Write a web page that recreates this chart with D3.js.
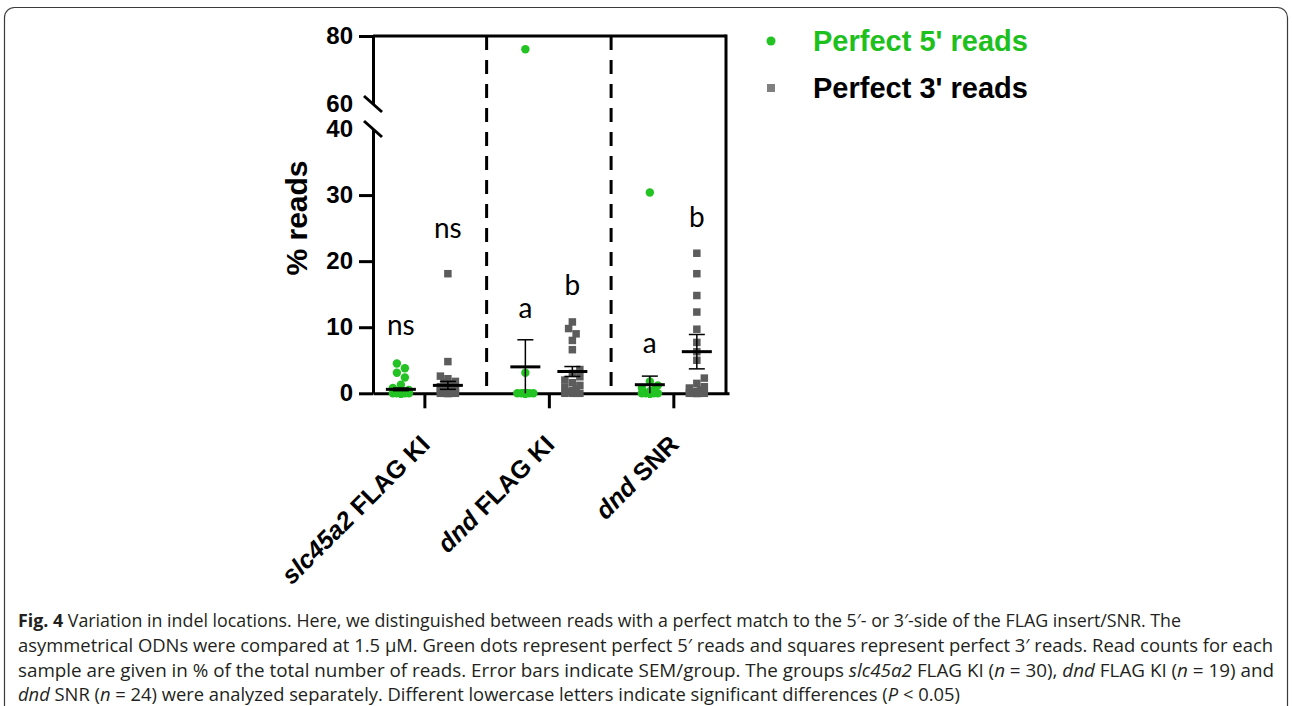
<!DOCTYPE html>
<html><head><meta charset="utf-8">
<script src="https://cdn.jsdelivr.net/npm/d3@7"></script>
<style>
body{margin:0;background:#fff;}
svg{display:block;}
</style></head><body>
<svg id="chart" width="1292" height="706"></svg>
<script>
// ---------------- data ----------------
const categories = ["slc45a2 FLAG KI", "dnd FLAG KI", "dnd SNR"];
const categoryItalic = ["slc45a2", "dnd", "dnd"];
const seriesNames = ["Perfect 5' reads", "Perfect 3' reads"];

const perfect5Slc = [4.5,3.8,3.1,2.4,1.3,0.8,0.5,0.3,0.2,0.1,0,0,0,0,0,0,0,0,0,0,0,0,0,0,0,0,0,0,0,0];
const perfect5DndFlag = [76.1,3.1,0,0,0,0,0,0,0,0,0,0,0,0,0,0,0,0,0];
const perfect5DndSnr = [30.4,1.8,1.2,0.8,0.5,0.3,0,0,0,0,0,0,0,0,0,0,0,0,0,0,0,0,0,0];

const perfect3Slc = [18.1,4.8,2.6,2.2,1.8,1.6,1.4,1.2,1.0,0.8,0.7,0.6,0.5,0.4,0.3,0.2,0.1,0.1,0,0,0,0,0,0,0,0,0,0,0,0];
const perfect3DndFlag = [10.8,9.8,9.0,8.0,6.6,3.6,3.0,2.5,2.0,1.6,1.2,0.9,0.6,0.4,0.2,0,0,0,0];
const perfect3DndSnr = [21.2,18.1,14.8,12.3,9.7,7.7,6.3,5.0,2.3,1.5,1.0,0.8,0.5,0.3,0,0,0,0,0,0,0,0,0,0];

const mean5 = [0.6, 4.0, 1.3];
const sem5  = [0.2, 4.1, 1.3];
const mean3 = [1.2, 3.3, 6.3];
const sem3  = [0.6, 0.75, 2.6];

const letters5 = ["ns", "a", "a"];
const letterPos5 = [8.8, 11.4, 6.1];
const letters3 = ["ns", "b", "b"];
const letterPos3 = [23.5, 14.9, 25.2];

const yTicksLow = [0, 10, 20, 30, 40];
const yTicksHigh = [60, 80];

const captionLines = [
  [["Fig. 4","b"],[" Variation in indel locations. Here, we distinguished between reads with a perfect match to the 5\u2032- or 3\u2032-side of the FLAG insert/SNR. The",""]],
  [["asymmetrical ODNs were compared at 1.5 \u03bcM. Green dots represent perfect 5\u2032 reads and squares represent perfect 3\u2032 reads. Read counts for each",""]],
  [["sample are given in % of the total number of reads. Error bars indicate SEM/group. The groups ",""],["slc45a2","i"],[" FLAG KI (",""],["n","i"],[" = 30), ",""],["dnd","i"],[" FLAG KI (",""],["n","i"],[" = 19) and",""]],
  [["dnd","i"],[" SNR (",""],["n","i"],[" = 24) were analyzed separately. Different lowercase letters indicate significant differences (",""],["P","i"],[" < 0.05)",""]]
];
const captionEnds = [1181, 1273, 1274, null];

// ---------------- drawing ----------------
const GREEN = "#22c322", GREEN_TXT = "#1ec01e", GRAY = "#5c5c5c";
const svg = d3.select("#chart");

// outer frame
svg.append("rect").attr("x",4.5).attr("y",7.5).attr("width",1283).attr("height",720)
  .attr("rx",10).attr("fill","none").attr("stroke","#3a3a3a").attr("stroke-width",1.2);

const left = 373, right = 726, bottom = 393.3;
const yLow = d3.scaleLinear().domain([0,40]).range([bottom, 129]);
const yHigh = d3.scaleLinear().domain([60,80]).range([104, 36]);
const y = v => v <= 40 ? yLow(v) : yHigh(v);

const x = d3.scalePoint().domain(categories).range([373, 729]).padding(0.43).align(0.48);
const xs = d3.scalePoint().domain(seriesNames).range([-23.5, 23.5]);

// top and right frame lines
svg.append("line").attr("x1",left).attr("x2",right).attr("y1",yHigh(80)).attr("y2",yHigh(80))
  .attr("stroke","#000").attr("stroke-width",3);
svg.append("line").attr("x1",right).attr("x2",right).attr("y1",yHigh(80)-1.5).attr("y2",bottom)
  .attr("stroke","#000").attr("stroke-width",3);

// dashed separators
const step = x.step();
for (let i = 0; i < categories.length - 1; i++) {
  const sx = x(categories[i]) + step/2;
  svg.append("line").attr("x1",sx).attr("x2",sx).attr("y1",yHigh(80)).attr("y2",bottom)
    .attr("stroke","#000").attr("stroke-width",3).attr("stroke-dasharray","14,10");
}

// y axes
const axLow = svg.append("g").attr("transform",`translate(${left},0)`)
  .call(d3.axisLeft(yLow).tickValues(yTicksLow).tickSize(14).tickSizeOuter(0).tickPadding(6));
const axHigh = svg.append("g").attr("transform",`translate(${left},0)`)
  .call(d3.axisLeft(yHigh).tickValues(yTicksHigh).tickSize(14).tickSizeOuter(0).tickPadding(6));
[axLow, axHigh].forEach(ax => {
  ax.select(".domain").attr("stroke","#000").attr("stroke-width",3);
  ax.selectAll(".tick line").attr("stroke","#000").attr("stroke-width",3);
  ax.selectAll(".tick text").attr("font-family","'Liberation Sans', Arial, sans-serif")
    .attr("font-weight","bold").attr("font-size",24).attr("fill","#000");
});
axLow.selectAll(".tick").filter(d => d === 40).select("line").remove();
axHigh.selectAll(".tick").filter(d => d === 60).select("line").remove();

// break marks
[yHigh(60), yLow(40)].forEach(by => {
  svg.append("line").attr("x1",left-9).attr("y1",by-8).attr("x2",left+9).attr("y2",by+8)
    .attr("stroke","#000").attr("stroke-width",3);
});

// x axis
const axX = svg.append("g").attr("transform",`translate(0,${bottom})`)
  .call(d3.axisBottom(x).tickSize(15).tickSizeOuter(0).tickFormat(""));
axX.select(".domain").attr("stroke","#000").attr("stroke-width",3);
axX.selectAll(".tick line").attr("stroke","#000").attr("stroke-width",3);

// x labels (rotated)
categories.forEach((c, i) => {
  const t = svg.append("text")
    .attr("transform",`translate(${x(c)+7},446) rotate(-45)`)
    .attr("text-anchor","end")
    .attr("font-family","'Liberation Sans', Arial, sans-serif")
    .attr("font-weight","bold").attr("font-size",25).attr("fill","#000");
  const it = categoryItalic[i];
  t.append("tspan").attr("font-style","italic").text(it);
  t.append("tspan").text(c.slice(it.length));
});

// y title
svg.append("text").attr("transform","translate(296,218) rotate(-90)")
  .attr("text-anchor","middle").attr("dy","0.35em")
  .attr("font-family","'Liberation Sans', Arial, sans-serif").attr("font-weight","bold")
  .attr("font-size",30).attr("fill","#000").text("% reads");

// swarm layout
function swarm(values, cx, size, maxHalf) {
  const pts = values.map(v => ({v, y: y(v)})).sort((a,b) => b.y - a.y);
  const cands = [0];
  const st = size * 0.5;
  for (let k = 1; k * st <= maxHalf + 0.01; k++) cands.push(k*st, -k*st);
  const placed = [];
  pts.forEach(p => {
    let best = 0, bestD = -1;
    for (const c of cands) {
      let minD = Infinity;
      for (const q of placed) {
        const d = Math.hypot(q.x - (cx + c), q.y - p.y);
        if (d < minD) minD = d;
      }
      if (minD >= size * 0.95) { best = c; bestD = Infinity; break; }
      if (minD > bestD) { bestD = minD; best = c; }
    }
    p.x = cx + best;
    placed.push(p);
  });
  return placed;
}

const data5 = [perfect5Slc, perfect5DndFlag, perfect5DndSnr];
const data3 = [perfect3Slc, perfect3DndFlag, perfect3DndSnr];

categories.forEach((c, i) => {
  const c5 = x(c) + xs(seriesNames[0]);
  const c3 = x(c) + xs(seriesNames[1]);
  swarm(data5[i], c5, 8, 11).forEach(p => {
    svg.append("circle").attr("cx",p.x).attr("cy",p.y).attr("r",4.2).attr("fill",GREEN);
  });
  swarm(data3[i], c3, 7.5, 11).forEach(p => {
    svg.append("rect").attr("x",p.x-3.75).attr("y",p.y-3.75).attr("width",7.5).attr("height",7.5).attr("fill",GRAY);
  });
  [[c5, mean5[i], sem5[i]], [c3, mean3[i], sem3[i]]].forEach(([cx, m, s]) => {
    const hi = y(m + s), lo = y(Math.max(0, m - s));
    svg.append("line").attr("x1",cx).attr("x2",cx).attr("y1",hi).attr("y2",lo).attr("stroke","#000").attr("stroke-width",1.5);
    svg.append("line").attr("x1",cx-8).attr("x2",cx+8).attr("y1",hi).attr("y2",hi).attr("stroke","#000").attr("stroke-width",1.5);
    if (m - s > 0) svg.append("line").attr("x1",cx-8).attr("x2",cx+8).attr("y1",lo).attr("y2",lo).attr("stroke","#000").attr("stroke-width",1.5);
    svg.append("line").attr("x1",cx-15).attr("x2",cx+15).attr("y1",y(m)).attr("y2",y(m)).attr("stroke","#000").attr("stroke-width",3);
  });
  [[c5, letters5[i], letterPos5[i]], [c3, letters3[i], letterPos3[i]]].forEach(([cx, t, v]) => {
    svg.append("text").attr("x",cx).attr("y",y(v)).attr("text-anchor","middle")
      .attr("font-family","Lato, 'Open Sans', sans-serif").attr("font-size",28).attr("fill","#000").text(t);
  });
});

// legend
svg.append("circle").attr("cx",771).attr("cy",41).attr("r",4.5).attr("fill",GREEN);
svg.append("text").attr("x",813).attr("y",51).attr("font-family","'Liberation Sans', Arial, sans-serif")
  .attr("font-weight","bold").attr("font-size",29).attr("fill",GREEN_TXT).text(seriesNames[0]);
svg.append("rect").attr("x",767).attr("y",84).attr("width",8).attr("height",8).attr("fill","#808080");
svg.append("text").attr("x",813).attr("y",98).attr("font-family","'Liberation Sans', Arial, sans-serif")
  .attr("font-weight","bold").attr("font-size",29).attr("fill","#000").text(seriesNames[1]);

// caption
const capY = [627, 652, 677, 701];
const capTexts = captionLines.map((segs, li) => {
  const t = svg.append("text").attr("x",18).attr("y",capY[li])
    .attr("font-family","'Open Sans', sans-serif").attr("font-size",18).attr("fill","#231f20");
  segs.forEach(([s, st]) => {
    const ts = t.append("tspan").text(s);
    if (st === "b") ts.attr("font-weight","bold");
    if (st === "i") ts.attr("font-style","italic");
  });
  return t;
});
let facs = [];
capTexts.forEach((t, li) => {
  if (captionEnds[li] != null) {
    const nat = t.node().getComputedTextLength();
    facs.push((captionEnds[li] - 18) / nat);
    t.attr("textLength", captionEnds[li] - 18).attr("lengthAdjust","spacingAndGlyphs");
  }
});
const fac = d3.mean(facs);
capTexts.forEach((t, li) => {
  if (captionEnds[li] == null) {
    const nat = t.node().getComputedTextLength();
    t.attr("textLength", nat * fac).attr("lengthAdjust","spacingAndGlyphs");
  }
});
</script>
</body></html>
